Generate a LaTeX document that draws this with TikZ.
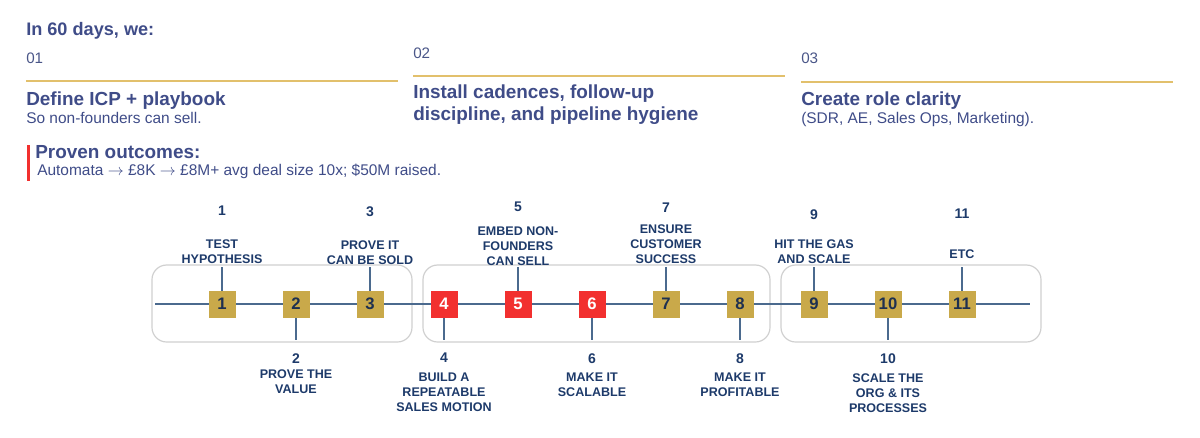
\documentclass[tikz,border=0pt]{standalone}
\usepackage{fontspec}
\setmainfont{Liberation Sans}
\definecolor{hdr}{HTML}{3F4C88}
\definecolor{sub}{HTML}{4A5688}
\definecolor{navy}{HTML}{1D3A6A}
\definecolor{goldline}{HTML}{E2C06C}
\definecolor{goldbox}{HTML}{C9A94A}
\definecolor{redbox}{HTML}{F2302F}
\definecolor{tline}{HTML}{4B6A8E}
\definecolor{frame}{HTML}{D0D0D0}
\definecolor{boxnum}{HTML}{1E3050}
\newcommand{\myarr}{$\rightarrow$}
\begin{document}
\begin{tikzpicture}[x=0.75pt,y=-0.75pt,
  hd/.style={anchor=base west,inner sep=0,text=hdr,font=\bfseries\fontsize{13.6}{16}\selectfont},
  ttl/.style={anchor=base west,inner sep=0,text=hdr,font=\bfseries\fontsize{14.2}{17}\selectfont},
  numtxt/.style={anchor=base west,inner sep=0,text=sub,font=\fontsize{11.4}{13}\selectfont},
  subtxt/.style={anchor=base west,inner sep=0,text=hdr,font=\fontsize{11.6}{13}\selectfont},
  sep/.style={draw=goldline,line width=1.5pt},
  frm/.style={draw=frame,line width=0.9pt,rounded corners=11pt},
  tl/.style={draw=tline,line width=1.5pt},
  stem/.style={draw=tline,line width=1.3pt},
  gbox/.style={fill=goldbox,minimum size=20.25pt,inner sep=0,text=boxnum,font=\bfseries\fontsize{12.5}{14}\selectfont},
  rbox/.style={fill=redbox,minimum size=20.25pt,inner sep=0,text=white,font=\bfseries\fontsize{12.5}{14}\selectfont},
  lnum/.style={anchor=north,inner sep=0,text=navy,font=\bfseries\fontsize{10.5}{12}\selectfont},
  ltxt/.style={anchor=north,inner sep=0,align=center,text=navy,font=\bfseries\fontsize{9.4}{11.25}\selectfont}
]
\useasboundingbox (0,0) rectangle (1200,437);
% header
\node[hd] (h) at (26,35) {In 60 days, we:};
\node[numtxt] (n1) at (26,63) {01};
\node[numtxt] (n2) at (413,58) {02};
\node[numtxt] (n3) at (801,63) {03};
\coordinate (s1a) at (26,81); \coordinate (s1b) at (398,81);
\coordinate (s2a) at (413,76); \coordinate (s2b) at (785,76);
\coordinate (s3a) at (801,81.5); \coordinate (s3b) at (1173,81.5);
\draw[sep] (s1a) -- (s1b);
\draw[sep] (s2a) -- (s2b);
\draw[sep] (s3a) -- (s3b);
\node[ttl] (t1) at (26,105) {Define ICP + playbook};
\node[subtxt] (u1) at (26,123) {So non-founders can sell.};
\node[ttl] (t2a) at (413,98) {Install cadences, follow-up};
\node[ttl] (t2b) at (413,120) {discipline, and pipeline hygiene};
\node[ttl] (t3) at (801,105) {Create role clarity};
\node[subtxt] (u3) at (801,123) {(SDR, AE, Sales Ops, Marketing).};
% proven outcomes
\coordinate (rb1) at (28.5,145); \coordinate (rb2) at (28.5,181);
\draw[draw=redbox,line width=1.9pt] (rb1) -- (rb2);
\node[ttl] (po) at (35,158) {Proven outcomes:};
\node[subtxt] (pa) at (37,175) {Automata \myarr{} £8K \myarr{} £8M+ avg deal size 10x; \$50M raised.};
% frames
\draw[frm] (152,265) rectangle (412,342);
\draw[frm] (423,265) rectangle (770,342);
\draw[frm] (781,265) rectangle (1041,342);
% timeline
\coordinate (L0) at (155,304); \coordinate (L1) at (1030,304);
\draw[tl] (L0) -- (L1);
% stems
\foreach \x in {222,370,518,666,814,962} {\draw[stem] (\x,267) -- (\x,295);}
\foreach \x in {296,444,592,740,888} {\draw[stem] (\x,313) -- (\x,340);}
% boxes
\node[gbox] (b1) at (222,304) {1};
\node[gbox] (b2) at (296,304) {2};
\node[gbox] (b3) at (370,304) {3};
\node[rbox] (b4) at (444,304) {4};
\node[rbox] (b5) at (518,304) {5};
\node[rbox] (b6) at (592,304) {6};
\node[gbox] (b7) at (666,304) {7};
\node[gbox] (b8) at (740,304) {8};
\node[gbox] (b9) at (814,304) {9};
\node[gbox] (b10) at (888,304) {10};
\node[gbox] (b11) at (962,304) {11};
% upper labels
\node[lnum] (a1) at (222,206) {1};
\node[ltxt] (x1) at (222,239) {TEST\\HYPOTHESIS};
\node[lnum] (a3) at (370,206) {3};
\node[ltxt] (x3) at (370,240) {PROVE IT\\CAN BE SOLD};
\node[lnum] (a5) at (518,202) {5};
\node[ltxt] (x5) at (518,226) {EMBED NON-\\FOUNDERS\\CAN SELL};
\node[lnum] (a7) at (666,203) {7};
\node[ltxt] (x7) at (666,224) {ENSURE\\CUSTOMER\\SUCCESS};
\node[lnum] (a9) at (814,209) {9};
\node[ltxt] (x9) at (814,239) {HIT THE GAS\\AND SCALE};
\node[lnum] (a11) at (962,209) {11};
\node[ltxt] (x11) at (962,249) {ETC};
% lower labels
\node[lnum] (a2) at (296,353) {2};
\node[ltxt] (x2) at (296,369) {PROVE THE\\VALUE};
\node[lnum] (a4) at (444,353) {4};
\node[ltxt] (x4) at (444,373) {BUILD A\\REPEATABLE\\SALES MOTION};
\node[lnum] (a6) at (592,353) {6};
\node[ltxt] (x6) at (592,373) {MAKE IT\\SCALABLE};
\node[lnum] (a8) at (740,353) {8};
\node[ltxt] (x8) at (740,373) {MAKE IT\\PROFITABLE};
\node[lnum] (a10) at (888,353) {10};
\node[ltxt] (x10) at (888,373) {SCALE THE\\ORG \& ITS\\PROCESSES};
\end{tikzpicture}
\end{document}
